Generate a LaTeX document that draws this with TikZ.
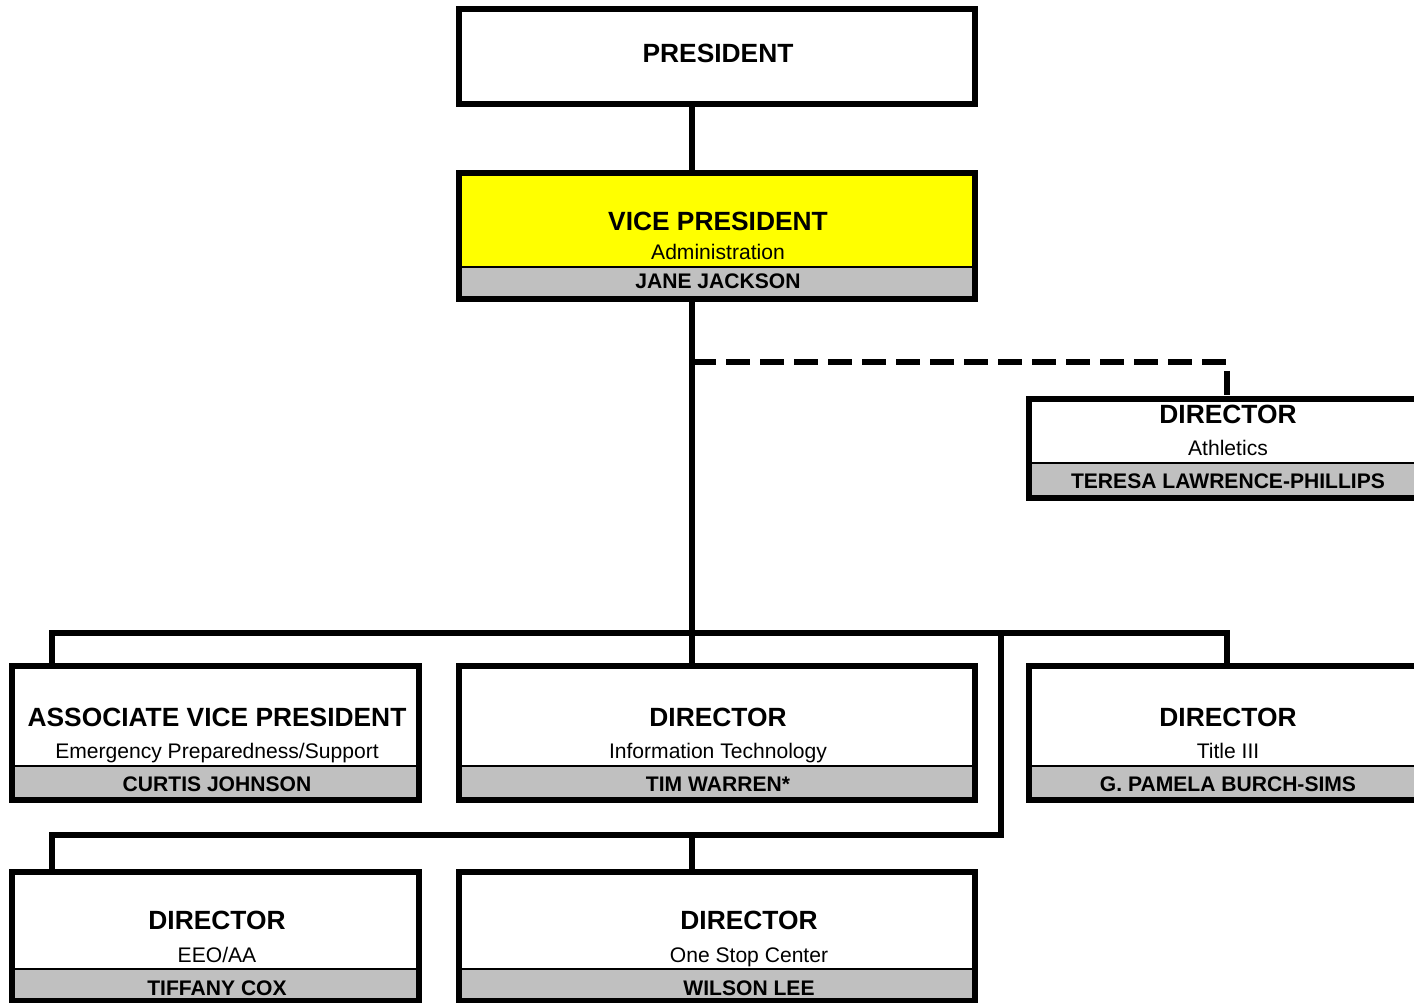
\documentclass[tikz,border=0pt]{standalone}
\usepackage{fontspec}
\setmainfont{Liberation Sans}
\newlength{\pxu}
\setlength{\pxu}{0.02cm}
\tikzset{
unit/.style={draw=black,line width=6\pxu,rectangle,inner sep=0pt,outer sep=0pt},
band/.style={draw=black,line width=2\pxu,fill=cband,rectangle,inner sep=0pt,outer sep=0pt,anchor=south},
titletext/.style={anchor=base,inner sep=0pt,font=\fontsize{15}{18}\selectfont\bfseries},
subtext/.style={anchor=base,inner sep=0pt,font=\fontsize{12}{14}\selectfont},
persontext/.style={anchor=base,inner sep=0pt,font=\fontsize{12}{14}\selectfont\bfseries},
link/.style={line width=6\pxu,line join=miter},
dashlink/.style={link,dash pattern=on 24\pxu off 10\pxu}
}
\begin{document}
\begin{tikzpicture}[x=\pxu,y=-\pxu]
\definecolor{cfvp}{rgb}{1.0,1.0,0.0}
\definecolor{cband}{rgb}{0.753,0.753,0.753}
%
\useasboundingbox (0,0) rectangle (1414,1003);
\clip (0,0) rectangle (1414,1003);
%
\coordinate (colA) at (52,0);
\coordinate (colB) at (692,0);
\coordinate (colC) at (1227,0);
\coordinate (colD) at (1001,0);
\coordinate (bus) at (692,633);
\coordinate (bus2) at (1001,835);
\coordinate (dashA) at (692,362);
%
\node[unit,fill=white,minimum width=516\pxu,minimum height=95\pxu] (pres) at (717,56.5) {};
\node[titletext] (prestitle) at (718,63) {PRESIDENT};
%
\node[unit,fill=cfvp,minimum width=516\pxu,minimum height=126\pxu] (vp) at (717,236) {};
\node[band,minimum width=516\pxu,minimum height=32\pxu] (vpband) at (vp.south) {};
\draw[unit] (vp.south west) rectangle (vp.north east);
\node[titletext] (vptitle) at (718,231) {VICE PRESIDENT};
\node[subtext] (vpsub) at (718,260) {Administration};
\node[persontext] (vpname) at (718,289) {JANE JACKSON};
%
\node[unit,fill=white,minimum width=400\pxu,minimum height=99\pxu] (ath) at (1229,448.5) {};
\node[band,minimum width=400\pxu,minimum height=35\pxu] (athband) at (ath.south) {};
\draw[unit] (ath.south west) rectangle (ath.north east);
\node[titletext] (athtitle) at (1228,424) {DIRECTOR};
\node[subtext] (athsub) at (1228,456) {Athletics};
\node[persontext] (athname) at (1228,489) {TERESA LAWRENCE-PHILLIPS};
%
\node[unit,fill=white,minimum width=407\pxu,minimum height=134\pxu] (avp) at (215.5,733) {};
\node[band,minimum width=407\pxu,minimum height=34\pxu] (avpband) at (avp.south) {};
\draw[unit] (avp.south west) rectangle (avp.north east);
\node[titletext] (avptitle) at (217,726) {ASSOCIATE VICE PRESIDENT};
\node[subtext] (avpsub) at (217,758) {Emergency Preparedness/Support};
\node[persontext] (avpname) at (217,791) {CURTIS JOHNSON};
%
\node[unit,fill=white,minimum width=516\pxu,minimum height=134\pxu] (it) at (717,733) {};
\node[band,minimum width=516\pxu,minimum height=34\pxu] (itband) at (it.south) {};
\draw[unit] (it.south west) rectangle (it.north east);
\node[titletext] (ittitle) at (718,726) {DIRECTOR};
\node[subtext] (itsub) at (718,758) {Information Technology};
\node[persontext] (itname) at (718,791) {TIM WARREN*};
%
\node[unit,fill=white,minimum width=400\pxu,minimum height=134\pxu] (t3) at (1229,733) {};
\node[band,minimum width=400\pxu,minimum height=34\pxu] (t3band) at (t3.south) {};
\draw[unit] (t3.south west) rectangle (t3.north east);
\node[titletext] (t3title) at (1228,726) {DIRECTOR};
\node[subtext] (t3sub) at (1228,758) {Title III};
\node[persontext] (t3name) at (1228,791) {G. PAMELA BURCH-SIMS};
%
\node[unit,fill=white,minimum width=407\pxu,minimum height=129\pxu] (eeo) at (215.5,936.5) {};
\node[band,minimum width=407\pxu,minimum height=32\pxu] (eeoband) at (eeo.south) {};
\draw[unit] (eeo.south west) rectangle (eeo.north east);
\node[titletext] (eeotitle) at (217,929) {DIRECTOR};
\node[subtext] (eeosub) at (217,962) {EEO/AA};
\node[persontext] (eeoname) at (217,995) {TIFFANY COX};
%
\node[unit,fill=white,minimum width=516\pxu,minimum height=129\pxu] (osc) at (717,936.5) {};
\node[band,minimum width=516\pxu,minimum height=32\pxu] (oscband) at (osc.south) {};
\draw[unit] (osc.south west) rectangle (osc.north east);
\node[titletext] (osctitle) at (749,929) {DIRECTOR};
\node[subtext] (oscsub) at (749,962) {One Stop Center};
\node[persontext] (oscname) at (749,995) {WILSON LEE};
%
\draw[link] (pres.south -| colB) -- (vp.north -| colB);
\draw[link] (vp.south -| colB) -- (bus);
\draw[dashlink] (dashA) -| (ath.north -| colC);
\draw[link] (avp.north -| colA) |- (bus) -| (t3.north -| colC);
\draw[link] (bus) -- (it.north -| colB);
\draw[link] (bus -| colD) -- (bus2) -| (eeo.north -| colA);
\draw[link] (bus2 -| colB) -- (osc.north -| colB);
%
\end{tikzpicture}
\end{document}
